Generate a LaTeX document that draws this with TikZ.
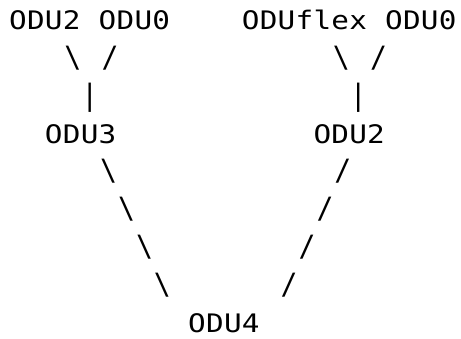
\documentclass[tikz,border=0pt]{standalone}
\usepackage{fontspec}
\usepackage{graphicx}
\newfontfamily\monofont{DejaVu Sans Mono}
\def\spc#1{\spcA#1\relax}
\def\spcA#1{\ifx#1\relax\else\makebox[17.9pt][l]{\scalebox{1.15}[1]{#1}}\expandafter\spcA\fi}
\newcommand\glyphmark[1]{\scalebox{1.1}[1.15]{#1}}
\tikzset{
  txt/.style={inner sep=0pt, anchor=base west, text=black,
    font=\monofont\fontsize{25.5}{30}\selectfont},
  bs/.style={txt, xshift=1.5pt},
  fs/.style={txt, xshift=3pt},
  bar/.style={txt, xshift=0.5pt},
}
\begin{document}
\begin{tikzpicture}[x=1pt,y=1pt]
\useasboundingbox (0,0) rectangle (461,338);
% row 0
\node[txt] (ltl) at (9,308) {\spc{ODU2}};
\node[txt] (ltr) at (98.5,308) {\spc{ODU0}};
\node[txt] (rtl) at (241.7,308) {\spc{ODUflex}};
\node[txt] (rtr) at (384.9,308) {\spc{ODU0}};
% row 1
\node[bs] (l1a) at (62.7,270.25) {\glyphmark{\textbackslash}};
\node[fs] (l1b) at (98.5,270.25) {\glyphmark{/}};
\node[bs] (r1a) at (331.2,270.25) {\glyphmark{\textbackslash}};
\node[fs] (r1b) at (367,270.25) {\glyphmark{/}};
% row 2
\node[bar] (l2) at (80.6,232.5) {\glyphmark{|}};
\node[bar] (r2) at (349.1,232.5) {\glyphmark{|}};
% row 3
\node[txt] (odu3) at (44.8,194.75) {\spc{ODU3}};
\node[txt] (odu2) at (313.3,194.75) {\spc{ODU2}};
% rows 4-7
\node[bs] (l4) at (98.5,157) {\glyphmark{\textbackslash}};
\node[bs] (l5) at (116.4,119.25) {\glyphmark{\textbackslash}};
\node[bs] (l6) at (134.3,81.5) {\glyphmark{\textbackslash}};
\node[bs] (l7) at (152.2,43.75) {\glyphmark{\textbackslash}};
\node[fs] (r4) at (331.2,157) {\glyphmark{/}};
\node[fs] (r5) at (313.3,119.25) {\glyphmark{/}};
\node[fs] (r6) at (295.4,81.5) {\glyphmark{/}};
\node[fs] (r7) at (277.5,43.75) {\glyphmark{/}};
% row 8
\node[txt] (odu4) at (188,6) {\spc{ODU4}};
\end{tikzpicture}
\end{document}
